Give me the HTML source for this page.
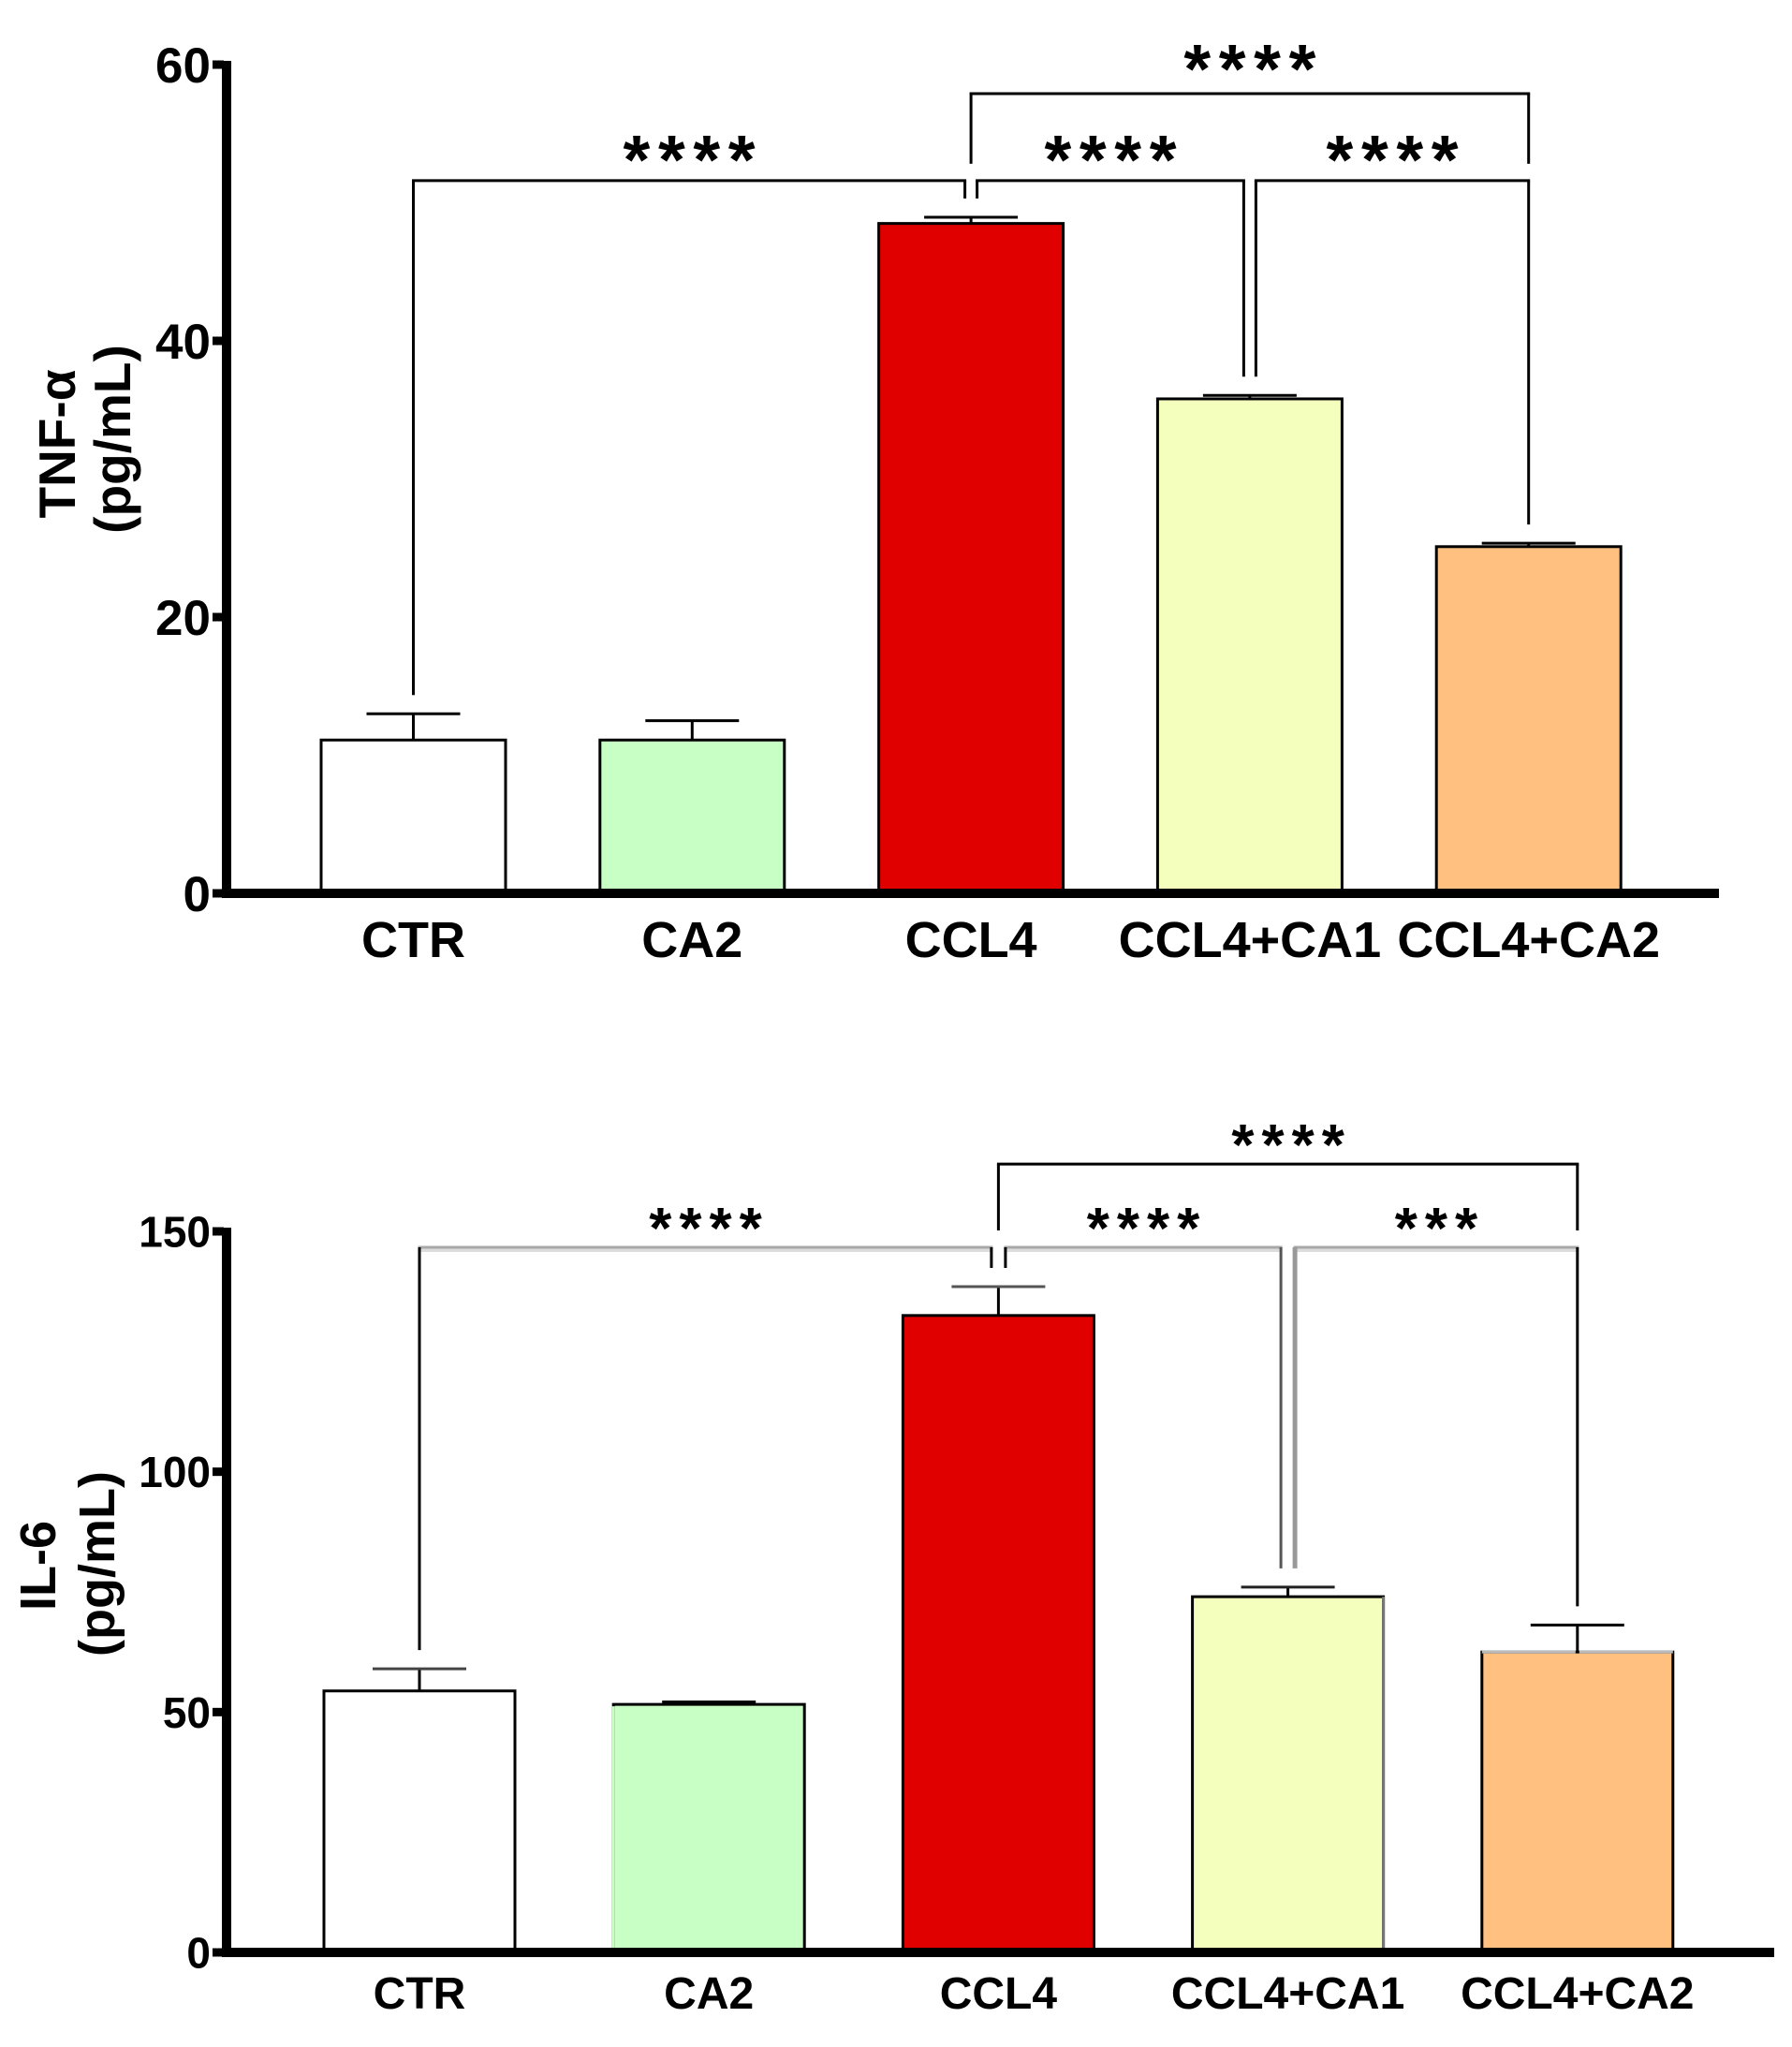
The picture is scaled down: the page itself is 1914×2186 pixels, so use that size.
<!DOCTYPE html>
<html lang="en">
<head>
<meta charset="utf-8">
<title>TNF-α and IL-6 bar charts</title>
<style>
  html, body { margin: 0; padding: 0; background: #ffffff; }
  svg { display: block; font-family: "Liberation Sans", Arial, sans-serif; font-weight: bold; }
</style>
</head>
<body>
<svg id="figure" xmlns="http://www.w3.org/2000/svg" width="1914" height="2186" viewBox="0 0 1914 2186"></svg>
<script>
const categories = ['CTR', 'CA2', 'CCL4', 'CCL4+CA1', 'CCL4+CA2'];
const barColors = ['#ffffff', '#c8ffc4', '#e00000', '#f4ffbd', '#ffc080'];

const tnfValues = [11.1, 11.1, 48.5, 35.8, 25.1];
const tnfErrors = [1.9, 1.4, 0.45, 0.25, 0.25];
const tnfTicks = [0, 20, 40, 60];
const tnfTitle = ['TNF-α', '(pg/mL)'];

const il6Values = [54.4, 51.6, 132.5, 74.0, 62.5];
const il6Errors = [4.6, 0.5, 6.0, 2.0, 5.6];
const il6Ticks = [0, 50, 100, 150];
const il6Title = ['IL-6', '(pg/mL)'];

const comparisonFrom = [0, 2, 3, 2];
const comparisonTo = [2, 3, 4, 4];
const tnfBracketLevels = [51.6, 51.6, 51.6, 57.9];
const il6BracketLevels = [146.7, 146.7, 146.7, 164];
const tnfStars = ['****', '****', '****', '****'];
const il6Stars = ['****', '****', '***', '****'];

const svg = document.getElementById('figure');
const NS = 'http://www.w3.org/2000/svg';

function make(parent, tag, attrs, text) {
  const el = document.createElementNS(NS, tag);
  for (const k in attrs) el.setAttribute(k, attrs[k]);
  if (text !== undefined) el.textContent = text;
  parent.appendChild(el);
  return el;
}

function drawChart(cfg) {
  const g = make(svg, 'g', {});
  
  

  const yScale = v => cfg.y0 - (v / cfg.yMax) * (cfg.y0 - cfg.yTop);
  const xScale = i => cfg.x0 + i * cfg.pitch;

  // bars and error bars
  cfg.values.forEach((v, i) => {
    const x = xScale(i);
    const top = yScale(v);
    const capY = yScale(v + cfg.errors[i]);

    const stem = make(g, 'line', { x1: x, x2: x, y1: top, y2: capY, stroke: '#000', 'stroke-width': 3 });
    
    

    const cap = make(g, 'line', { x1: x - cfg.capHalf, x2: x + cfg.capHalf, y1: capY, y2: capY, stroke: cfg.capStroke[i], 'stroke-width': 3 });
    
    

    const bar = make(g, 'rect', { x: x - cfg.barW / 2, y: top, width: cfg.barW, height: cfg.y0 - top, fill: barColors[i], stroke: '#000', 'stroke-width': 3 });
    
    

    const label = make(g, 'text', { x: x, y: cfg.y0 + cfg.catDy, 'text-anchor': 'middle', 'font-size': cfg.catSize, fill: '#000' }, categories[i]);
    
    
  });

  // faded bar edges seen in the lower panel
  if (cfg.fadedEdges) {
    const greenLeft = xScale(1) - cfg.barW / 2;
    const greenEdge = make(g, 'line', { x1: greenLeft, x2: greenLeft, y1: yScale(cfg.values[1]) + 2, y2: cfg.y0, stroke: '#c8ffc4', 'stroke-width': 3 });
    
    

    const yellowRight = xScale(3) + cfg.barW / 2;
    const yellowEdge = make(g, 'line', { x1: yellowRight, x2: yellowRight, y1: yScale(cfg.values[3]), y2: cfg.y0, stroke: '#777', 'stroke-width': 3 });
    
    

    const orangeTop = yScale(cfg.values[4]);
    const orangeEdge = make(g, 'line', { x1: xScale(4) - cfg.barW / 2, x2: xScale(4) - 2, y1: orangeTop, y2: orangeTop, stroke: '#bbb', 'stroke-width': 3 });
    
    

    const orangeEdgeRight = make(g, 'line', { x1: xScale(4) + 2, x2: xScale(4) + cfg.barW / 2, y1: orangeTop, y2: orangeTop, stroke: '#bbb', 'stroke-width': 3 });
    
    
  }

  // axes
  const yAxis = make(g, 'rect', { x: cfg.axisX - 5, y: cfg.yTop - 4, width: 10, height: cfg.y0 - cfg.yTop + 9, fill: '#000' });
  
  

  const xAxis = make(g, 'rect', { x: cfg.axisX - 5, y: cfg.y0 - 5, width: cfg.axisEnd - cfg.axisX + 5, height: 10, fill: '#000' });
  
  

  cfg.ticks.forEach(t => {
    const y = yScale(t);
    const tick = make(g, 'rect', { x: cfg.axisX - 15, y: y - 4.5, width: 12, height: 9, fill: '#000' });
    
    

    const lab = make(g, 'text', { x: cfg.axisX - 17, y: y + cfg.tickSize * 0.36, 'text-anchor': 'end', 'font-size': cfg.tickSize, fill: '#000' }, String(t));
    
    
  });

  // axis title
  cfg.title.forEach((line, i) => {
    const tx = cfg.titleX[i];
    const ty = cfg.titleY[i];
    const title = make(g, 'text', { x: tx, y: ty, transform: 'rotate(-90 ' + tx + ' ' + ty + ')', 'text-anchor': 'middle', 'font-size': cfg.titleSize, fill: '#000' }, line);
    
    
  });

  // significance brackets
  const gap = 20;
  const lowest = Math.min.apply(null, cfg.levels);
  comparisonFrom.forEach((from, b) => {
    const to = comparisonTo[b];
    const level = cfg.levels[b];
    const yLevel = yScale(level);
    const isTop = level > lowest;
    const sameLevel = j => j !== b && cfg.levels[j] === level;

    const fromOffset = comparisonTo.some((t, j) => sameLevel(j) && t === from) ? cfg.splitOffset : 0;
    const toOffset = comparisonFrom.some((f, j) => sameLevel(j) && f === to) ? -cfg.splitOffset : 0;
    const xa = xScale(from) + fromOffset;
    const xb = xScale(to) + toOffset;

    const legEnd = i => {
      if (isTop) return yScale(lowest) - gap + 2;
      return yScale(cfg.values[i] + cfg.errors[i]) - gap;
    };

    if (!isTop && cfg.bracketHalo) {
      const halo = make(g, 'line', { x1: xa - 1.5, x2: xb + 1.5, y1: yLevel + 3, y2: yLevel + 3, stroke: cfg.bracketHalo, 'stroke-width': 4 });
      
      
    }

    const horiz = make(g, 'line', { x1: xa - 1.5, x2: xb + 1.5, y1: yLevel, y2: yLevel, stroke: isTop ? '#000' : cfg.bracketStroke, 'stroke-width': 3 });
    
    

    const legA = make(g, 'line', { x1: xa, x2: xa, y1: yLevel, y2: legEnd(from), stroke: (from === 3 ? cfg.legStrokeCa1 : '#000'), 'stroke-width': (from === 3 ? cfg.legWidthCa1 : 3) });
    
    

    const legB = make(g, 'line', { x1: xb, x2: xb, y1: yLevel, y2: legEnd(to), stroke: (to === 3 ? cfg.legStrokeCa1Left : '#000'), 'stroke-width': 3 });
    
    

    const star = make(g, 'text', { x: (xa + xb) / 2 + cfg.starSpacing / 2, y: yLevel + cfg.starDy - (isTop ? cfg.topStarLift : 0), 'text-anchor': 'middle', 'font-size': cfg.starSize, 'letter-spacing': cfg.starSpacing, fill: '#000' }, cfg.stars[b]);
    
    
  });
}

drawChart({
  name: 'tnf-alpha-chart',
  values: tnfValues, errors: tnfErrors, ticks: tnfTicks, title: tnfTitle,
  levels: tnfBracketLevels, stars: tnfStars,
  yMax: 60, y0: 954, yTop: 69,
  x0: 441.5, pitch: 297.8, barW: 197, capHalf: 50,
  axisX: 242, axisEnd: 1836,
  tickSize: 53, catSize: 54, catDy: 68,
  titleSize: 55,
  titleX: [80, 139], titleY: [474, 469],
  bracketStroke: '#000', bracketHalo: null,
  legStrokeCa1: '#000', legWidthCa1: 3, legStrokeCa1Left: '#000',
  capStroke: ['#000', '#000', '#000', '#000', '#000'],
  splitOffset: 6.5,
  starSize: 74, starSpacing: 8.6, starDy: 3, topStarLift: 4,
  fadedEdges: false
});

drawChart({
  name: 'il-6-chart',
  values: il6Values, errors: il6Errors, ticks: il6Ticks, title: il6Title,
  levels: il6BracketLevels, stars: il6Stars,
  yMax: 150, y0: 2085, yTop: 1315,
  x0: 448, pitch: 309.2, barW: 204, capHalf: 50,
  axisX: 242, axisEnd: 1895,
  tickSize: 46, catSize: 48, catDy: 60,
  titleSize: 54,
  titleX: [59, 122], titleY: [1672, 1670],
  bracketStroke: '#a8a8a8', bracketHalo: '#dcdcdc',
  legStrokeCa1: '#999', legWidthCa1: 5, legStrokeCa1Left: '#555',
  capStroke: ['#444', '#000', '#555', '#222', '#000'],
  splitOffset: 7.5,
  starSize: 62, starSpacing: 8, starDy: 1, topStarLift: 0,
  fadedEdges: true
});
</script>
</body>
</html>
